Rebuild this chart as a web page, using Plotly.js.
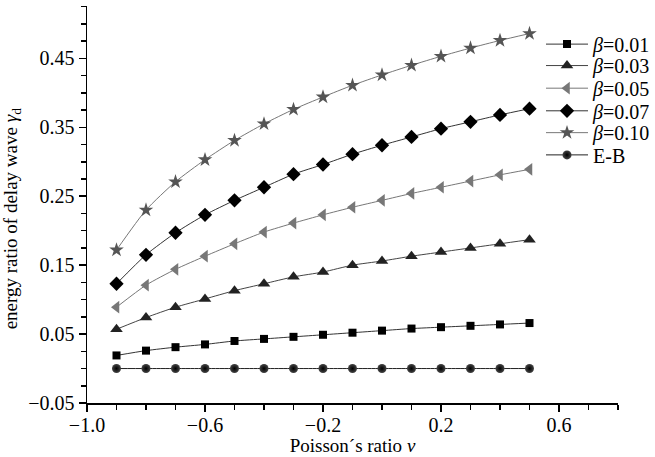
<!DOCTYPE html>
<html>
<head>
<meta charset="utf-8">
<script src="https://cdn.plot.ly/plotly-3.0.1.min.js"></script>
<style>html,body{margin:0;padding:0;background:#fff;}#chart{width:655px;height:457px;}</style>
</head>
<body>
<div id="chart"></div>
<script>
const poisson = [-0.9, -0.8, -0.7, -0.6, -0.5, -0.4, -0.3, -0.2, -0.1, 0.0, 0.1, 0.2, 0.3, 0.4, 0.5];
const beta001 = [0.019, 0.026, 0.031, 0.035, 0.040, 0.043, 0.046, 0.049, 0.052, 0.055, 0.058, 0.060, 0.062, 0.064, 0.066];
const beta003 = [0.057, 0.074, 0.089, 0.101, 0.113, 0.123, 0.133, 0.140, 0.150, 0.156, 0.163, 0.169, 0.175, 0.181, 0.187];
const beta005 = [0.089, 0.121, 0.144, 0.163, 0.181, 0.198, 0.211, 0.223, 0.234, 0.244, 0.254, 0.263, 0.272, 0.281, 0.289];
const beta007 = [0.123, 0.165, 0.197, 0.223, 0.244, 0.263, 0.282, 0.296, 0.311, 0.324, 0.336, 0.348, 0.358, 0.368, 0.377];
const beta010 = [0.172, 0.230, 0.271, 0.303, 0.331, 0.355, 0.376, 0.394, 0.411, 0.426, 0.440, 0.453, 0.465, 0.476, 0.486];
const ebValues = [0, 0, 0, 0, 0, 0, 0, 0, 0, 0, 0, 0, 0, 0, 0];
const seriesNames = ['<i>β</i>=0.01', '<i>β</i>=0.03', '<i>β</i>=0.05', '<i>β</i>=0.07', '<i>β</i>=0.10', 'E-B'];
const xTickVals = [-1.0, -0.6, -0.2, 0.2, 0.6];
const xTickText = ['−1.0', '−0.6', '−0.2', '0.2', '0.6'];
const yTickVals = [-0.05, 0.05, 0.15, 0.25, 0.35, 0.45];
const yTickText = ['−0.05', '0.05', '0.15', '0.25', '0.35', '0.45'];

const styles = [
  {line: '#333', marker: '#000', symbol: 'square', size: 8},
  {line: '#444', marker: '#222', symbol: 'triangle-up', size: 11},
  {line: '#777', marker: '#777', symbol: 'triangle-left', size: 11},
  {line: '#333', marker: '#000', symbol: 'diamond', size: 11},
  {line: '#777', marker: '#555', symbol: 'star', size: 11},
  {line: '#222', marker: '#111', symbol: 'circle', size: 9}
];
const ys = [beta001, beta003, beta005, beta007, beta010, ebValues];
const legendIds = ['legend', 'legend2', 'legend3', 'legend4', 'legend5', 'legend6'];
const traces = ys.map((y, i) => ({
  x: poisson, y: y, name: seriesNames[i], type: 'scatter', mode: 'lines+markers',
  legend: legendIds[i],
  line: {color: styles[i].line, width: 1, shape: 'spline', smoothing: 0.6},
  marker: {color: styles[i].marker, symbol: styles[i].symbol, size: styles[i].size, line: {width: 0}}
}));
traces[5].marker.gradient = {type: 'radial', color: '#000'};
traces[5].marker.color = '#444';

const fam = 'Liberation Serif';
const layout = {
  width: 655, height: 457,
  margin: {l: 87, r: 37, t: 6, b: 54, autoexpand: false},
  paper_bgcolor: '#fff', plot_bgcolor: '#fff',
  font: {family: fam, size: 20, color: '#000'},
  showlegend: true,
  xaxis: {
    range: [-1.0, 0.8], showgrid: false, zeroline: false, showline: true, linecolor: '#000', linewidth: 1.5,
    ticks: 'outside', ticklen: 7, tickwidth: 1.5, tickcolor: '#000',
    tickmode: 'array', tickvals: xTickVals, ticktext: xTickText,
    tickfont: {family: fam, size: 20, color: '#000'}, ticklabelstandoff: -4,
    minor: {ticks: 'outside', ticklen: 5, tickwidth: 1.5, tickcolor: '#000', dtick: 0.1, tick0: -1.0, showgrid: false},
    title: {text: 'Poisson´s ratio <i>v</i>', font: {family: fam, size: 19, color: '#000'}, standoff: 2}
  },
  yaxis: {
    range: [-0.05, 0.526], showgrid: false, zeroline: false, showline: true, linecolor: '#000', linewidth: 1.5,
    ticks: 'outside', ticklen: 7, tickwidth: 1.5, tickcolor: '#000',
    tickmode: 'array', tickvals: yTickVals, ticktext: yTickText,
    tickfont: {family: fam, size: 20, color: '#000'},
    minor: {ticks: 'outside', ticklen: 5, tickwidth: 1.5, tickcolor: '#000', dtick: 0.025, tick0: -0.05, showgrid: false},
    title: {text: 'energy ratio of delay wave <i>γ</i><sub>d</sub>&nbsp;&nbsp;&nbsp;&nbsp;&nbsp;&nbsp;', font: {family: fam, size: 19, color: '#000'}, standoff: 6}
  }
};
const legendY = [0.904, 0.850, 0.793, 0.736, 0.681, 0.625];
legendIds.forEach((id, i) => {
  layout[id] = {x: 0.855, y: legendY[i], xanchor: 'left', yanchor: 'middle', bgcolor: 'rgba(0,0,0,0)',
    font: {family: fam, size: 20, color: '#000'}, itemwidth: 42, borderwidth: 0};
});
Plotly.newPlot('chart', traces, layout, {displayModeBar: false, staticPlot: true});
</script>
</body>
</html>
